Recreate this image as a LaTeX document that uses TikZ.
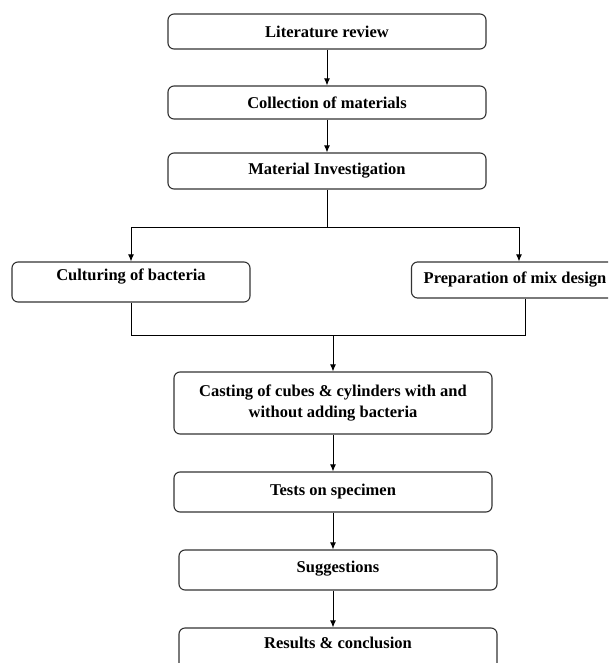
\documentclass[tikz,border=0pt]{standalone}
\usepackage{fontspec}
\setmainfont{Liberation Serif}
\usetikzlibrary{arrows.meta}
\begin{document}
\begin{tikzpicture}[x=1pt,y=-1pt,
  box/.style={draw=black!80, line width=1.1pt, rounded corners=6pt, inner sep=0pt,
    font=\bfseries\fontsize{16.5}{21}\selectfont, align=center},
  arr/.style={-{Latex[length=7pt,width=6pt]}, line width=1pt},
  ln/.style={line width=1pt}]
\useasboundingbox (0,0) rectangle (608,663);
\clip (0,0) rectangle (608,663);
\fill[white] (0,0) rectangle (608,663);
% top chain
\node[box, minimum width=318pt, minimum height=35pt] (lit) at (327,31.5) {Literature review};
\node[box, minimum width=318pt, minimum height=33pt] (col) at (327,102.5) {Collection of materials};
\node[box, minimum width=318pt, minimum height=36pt] (mat) at (327,171) {Material Investigation};
% branches
\node[box, minimum width=238pt, minimum height=40pt, text depth=14pt] (cul) at (131,282) {Culturing of bacteria};
\node[box, minimum width=207pt, minimum height=36pt] (prep) at (515,280) {Preparation of mix design};
% bottom chain
\node[box, minimum width=318pt, minimum height=62pt] (cast) at (333,403) {Casting of cubes \& cylinders with and\\without adding bacteria};
\node[box, minimum width=318pt, minimum height=40pt] (test) at (333,492) {Tests on specimen};
\node[box, minimum width=318pt, minimum height=40pt, text depth=7pt] (sug) at (338,570) {Suggestions};
\node[box, minimum width=318pt, minimum height=44pt, text depth=14pt] (res) at (338,650) {Results \& conclusion};
% connectors
\draw[arr] (lit.south) -- (col.north);
\draw[arr] (col.south) -- (mat.north);
\coordinate (j1) at (mat.south |- 0,227);
\draw[ln] (mat.south) -- (j1);
\draw[arr] (j1) -| (cul.north);
\draw[arr] (j1) -| ([xshift=4pt]prep.north);
\coordinate (j2) at (333,335);
\draw[ln] (cul.south) |- (j2);
\draw[ln] ([xshift=10pt]prep.south) |- (j2);
\draw[arr] (j2) -- (cast.north);
\draw[arr] (cast.south) -- (test.north);
\draw[arr] (test.south) -- (test.south |- sug.north);
\draw[arr] (test.south |- sug.south) -- (test.south |- res.north);
\end{tikzpicture}
\end{document}
